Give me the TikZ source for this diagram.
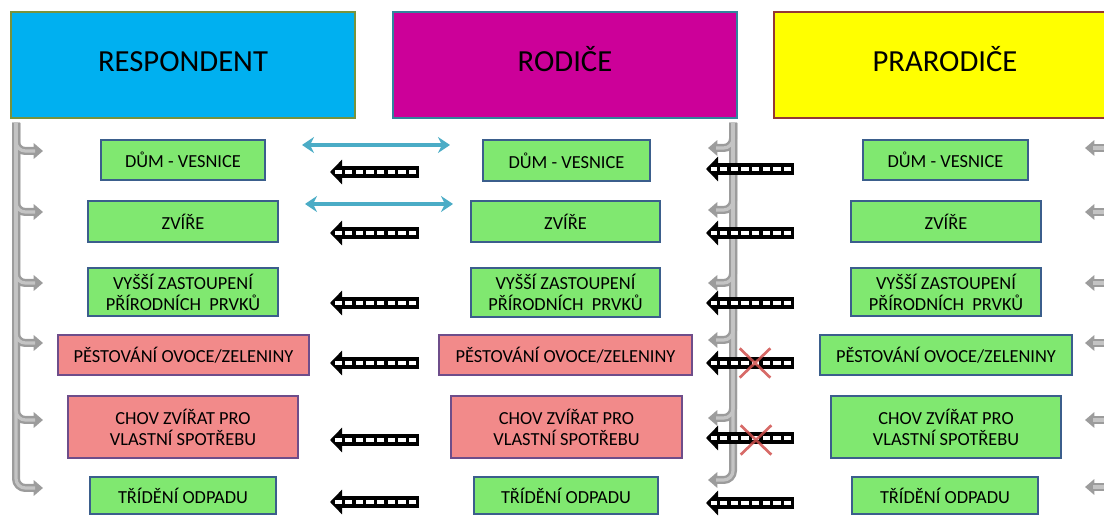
\documentclass[tikz,border=0pt]{standalone}
\usepackage{fontspec}
\setmainfont{Carlito}
\usetikzlibrary{arrows.meta,shapes.misc}
\definecolor{h1fill}{HTML}{00B0F0}
\definecolor{h1line}{HTML}{77933C}
\definecolor{h2fill}{HTML}{CC0099}
\definecolor{h2line}{HTML}{31859C}
\definecolor{h3fill}{HTML}{FFFF00}
\definecolor{h3line}{HTML}{953735}
\definecolor{gfill}{HTML}{80E870}
\definecolor{gline}{HTML}{3B5E8C}
\definecolor{pfill}{HTML}{F28A8A}
\definecolor{pline}{HTML}{6E4D8A}
\definecolor{pipedark}{HTML}{9C9C9C}
\definecolor{pipelight}{HTML}{C4C4C4}
\definecolor{arrblue}{HTML}{4BACC6}
\definecolor{crossred}{HTML}{D0504D}
\begin{document}
\begin{tikzpicture}[x=0.75pt,y=-0.75pt,
  rect/.style n args={4}{minimum width={(#3-#1)*0.75pt}, minimum height={(#4-#2)*0.75pt},
    at={({(#1+#3)/2},{(#2+#4)/2})}},
  hdr/.style={draw, line width=2.2pt, inner sep=0pt},
  hdrtext/.style={font=\fontsize{23}{27}\selectfont, inner sep=0pt, text height=0.644em, text depth=0pt},
  gbox/.style={draw=gline, fill=gfill, line width=1.8pt, inner sep=0pt, align=center,
    font=\fontsize{13.8}{15.6}\selectfont},
  pbox/.style={gbox, draw=pline, fill=pfill},
  pipeout/.style={draw=pipedark, line width=6pt, rounded corners=7pt,
    -{Triangle[length=7pt,width=11.5pt]}},
  pipein/.style={draw=pipelight, line width=2.4pt, rounded corners=7pt},
  hatch/.style={draw=black, line width=9pt, -{Triangle[length=9pt,width=18pt]},
    postaction={draw=white, -, line width=3pt, dash pattern=on 5.5pt off 2.5pt,
      shorten <=2pt, shorten >=4pt}},
  twoway/.style={draw=arrblue, line width=2.4pt,
    {Stealth[length=9pt,width=12pt]}-{Stealth[length=9pt,width=12pt]}},
  xmark/.style={cross out, draw=crossred, line width=2pt, minimum width=21pt,
    minimum height=20pt, inner sep=0pt, opacity=0.85}]
\useasboundingbox (0,0) rectangle (1104,516);
\clip (0,0) rectangle (1104,516);

% headers
\node[hdr, draw=h1line, fill=h1fill, rect={11}{12}{355}{118}] (hresp) {};
\node[hdr, draw=h2line, fill=h2fill, rect={393}{12}{737}{118}] (hrod) {};
\node[hdr, draw=h3line, fill=h3fill, rect={774}{12}{1124}{118}] (hprar) {};
\node[hdrtext] (tresp) at (183,67) {RESPONDENT};
\node[hdrtext] (trod) at (565,67) {RODIČE};
\node[hdrtext] (tprar) at (945,67) {PRARODIČE};

% pipes (brackets)
\coordinate (lt) at (16,123);
\coordinate (mt) at (733,123);
\foreach \y [count=\i] in {151,212,283,343,420,488}{
  \coordinate (la\i) at (43,\y);
}
\foreach \y [count=\i] in {148,210,283,340,418,480}{
  \coordinate (ma\i) at (708,\y);
}
\foreach \y [count=\i] in {148,212,283,343,420,487}{
  \coordinate (ea\i) at (1085,\y);
  \coordinate (eb\i) at (1112,\y);
}
\foreach \i in {1,...,6}{
  \draw[pipeout] (lt) |- (la\i);
  \draw[pipeout] (mt) |- (ma\i);
  \draw[pipeout] (eb\i) -- (ea\i);
}
\foreach \i in {1,...,6}{
  \draw[pipein] (lt) |- ([xshift=-6]la\i);
  \draw[pipein] (mt) |- ([xshift=6]ma\i);
  \draw[pipein] (eb\i) -- ([xshift=6]ea\i);
}

% boxes: respondent
\node[gbox, rect={101}{140}{265}{180}] (l1) {DŮM - VESNICE};
\node[gbox, rect={88}{201}{278}{242}] (l2) {ZVÍŘE};
\node[gbox, rect={88}{268}{278}{316}] (l3) {VYŠŠÍ ZASTOUPENÍ\\PŘÍRODNÍCH~ PRVKŮ};
\node[pbox, rect={58}{335}{309}{375}] (l4) {PĚSTOVÁNÍ OVOCE/ZELENINY};
\node[pbox, rect={68}{396}{298}{458}] (l5) {CHOV ZVÍŘAT PRO\\VLASTNÍ SPOTŘEBU};
\node[gbox, rect={90}{477}{276}{514}] (l6) {TŘÍDĚNÍ ODPADU};
% rodice
\node[gbox, rect={483}{140}{650}{181}] (m1) {DŮM - VESNICE};
\node[gbox, rect={471}{201}{660}{242}] (m2) {ZVÍŘE};
\node[gbox, rect={471}{268}{660}{317}] (m3) {VYŠŠÍ ZASTOUPENÍ\\PŘÍRODNÍCH~ PRVKŮ};
\node[pbox, rect={439}{335}{692}{375}] (m4) {PĚSTOVÁNÍ OVOCE/ZELENINY};
\node[pbox, rect={451}{396}{682}{458}] (m5) {CHOV ZVÍŘAT PRO\\VLASTNÍ SPOTŘEBU};
\node[gbox, rect={474}{477}{658}{514}] (m6) {TŘÍDĚNÍ ODPADU};
% prarodice
\node[gbox, rect={863}{140}{1028}{180}] (r1) {DŮM - VESNICE};
\node[gbox, rect={851}{201}{1041}{242}] (r2) {ZVÍŘE};
\node[gbox, rect={851}{268}{1041}{316}] (r3) {VYŠŠÍ ZASTOUPENÍ\\PŘÍRODNÍCH~ PRVKŮ};
\node[gbox, rect={820}{335}{1072}{375}] (r4) {PĚSTOVÁNÍ OVOCE/ZELENINY};
\node[gbox, rect={831}{396}{1061}{458}] (r5) {CHOV ZVÍŘAT PRO\\VLASTNÍ SPOTŘEBU};
\node[gbox, rect={852}{477}{1038}{514}] (r6) {TŘÍDĚNÍ ODPADU};

% two-way blue arrows
\coordinate (b1l) at (302,145); \coordinate (b1r) at (450,145);
\coordinate (b2l) at (305,204); \coordinate (b2r) at (453,204);
\draw[twoway] (b1l) -- (b1r);
\draw[twoway] (b2l) -- (b2r);

% hatched arrows
\foreach \y [count=\i] in {172,233,303,363,440,502}{
  \coordinate (hlt\i) at (419,\y);
  \coordinate (hlh\i) at (330,\y);
  \draw[hatch] (hlt\i) -- (hlh\i);
}
\foreach \y [count=\i] in {169,233,303,363,438,503}{
  \coordinate (hrt\i) at (794,\y);
  \coordinate (hrh\i) at (706,\y);
  \draw[hatch] (hrt\i) -- (hrh\i);
}

% crosses
\node[xmark] (x4) at (755,363) {};
\node[xmark] (x5) at (756,440) {};
\end{tikzpicture}
\end{document}
